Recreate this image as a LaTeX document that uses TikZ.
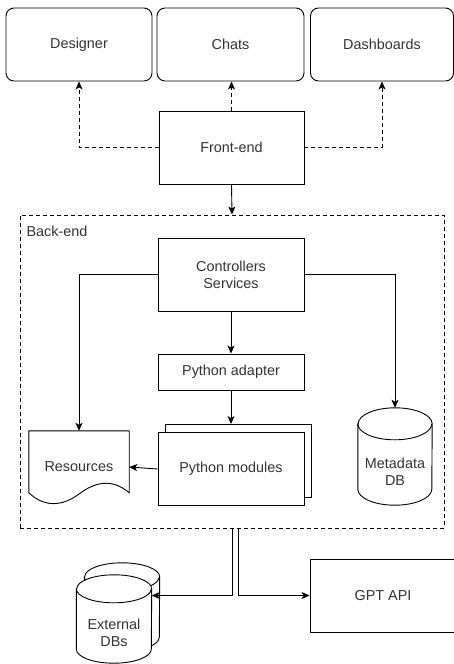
\documentclass[tikz,border=0pt]{standalone}
\usepackage{fontspec}
\setmainfont{Liberation Sans}
\usepackage{tikz}
\usetikzlibrary{shapes.geometric, arrows.meta, positioning, calc}
\definecolor{textgray}{RGB}{51,51,51}

\begin{document}
\begin{tikzpicture}[
    x=1pt, y=-1pt,
    font=\fontsize{14.4}{17}\selectfont,
    box/.style={
        rectangle,
        draw,
        line width=0.9pt,
        minimum width=146pt,
        minimum height=73pt,
        align=center,
        text=textgray,
        fill=white
    },
    roundbox/.style={box, rounded corners=8pt},
    smallbox/.style={box, minimum height=36pt},
    dbarea/.style={rectangle, minimum width=74pt, inner sep=0pt},
    dbline/.style={line width=0.9pt, fill=white},
    dbtext/.style={align=center, text=textgray},
    arrow/.style={-{Stealth[length=8pt,width=7pt,inset=2pt]}, line width=0.9pt},
    dasharrow/.style={arrow, dash pattern=on 4pt off 3pt}
]

\useasboundingbox (0,0) rectangle (454,664);

% front-end clients
\node[roundbox] (designer) at (79,44.5) {Designer};
\node[roundbox, minimum width=147pt] (chats) at (230.5,44.5) {Chats};
\node[roundbox, minimum width=143pt] (dashboards) at (382,44.5) {Dashboards};
\node[box, minimum width=145pt] (frontend) at (231.5,147.5) {Front-end};

% back-end container
\node[draw, line width=0.9pt, dash pattern=on 4pt off 3pt, minimum width=424pt, minimum height=313pt] (backend) at (232,371.5) {};
\node[anchor=west, text=textgray] (belabel) at (23,231) {Back-end};

\node[box] (ctrl) at (231,274.5) {Controllers\\Services};
\node[smallbox] (adapter) at (231,372) {Python adapter};
\node[box] (modback) at (238,461) {};
\node[box] (modules) at (231,469) {Python modules};
\node[rectangle, minimum width=100pt, minimum height=72pt, text=textgray] (res) at (79,467) {Resources};
\draw[line width=0.9pt] (res.north west) -- (res.north east) -- ($(res.north east)+(0,62)$)
    .. controls (112,478) and (95,482) .. (79,494)
    .. controls (63,506) and (45,508) .. ($(res.north west)+(0,62)$) -- cycle;

% database areas
\node[dbarea, minimum height=97pt] (meta) at (395,456.5) {};
\node[dbarea, minimum width=75pt, minimum height=88pt] (extback) at (122,607) {};
\node[dbarea, minimum width=75pt, minimum height=88pt] (extdb) at (114,619) {};
\node[box] (gpt) at (383,595.5) {GPT API};

% cylinders
\foreach \db/\rx/\ry in {meta/37/16, extback/37.5/14, extdb/37.5/14} {
    \draw[dbline] ([yshift=-\ry pt]\db.north west) -- ([yshift=\ry pt]\db.south west)
        arc[start angle=180, end angle=360, x radius=\rx pt, y radius=\ry pt]
        -- ([yshift=-\ry pt]\db.north east)
        arc[start angle=0, end angle=180, x radius=\rx pt, y radius=\ry pt] -- cycle;
    \draw[dbline, fill=none] ([yshift=-\ry pt]\db.north west)
        arc[start angle=180, end angle=360, x radius=\rx pt, y radius=\ry pt];
}
\node[dbtext] (metatext) at (395,472) {Metadata\\DB};
\node[dbtext] (exttext) at (114,633) {External\\DBs};

\draw[dasharrow] (frontend.west) -| (designer.south);
\draw[dasharrow] (frontend.north) -- (frontend.north |- chats.south);
\draw[dasharrow] (frontend.east) -| (dashboards.south);
\draw[arrow] (frontend.south) -- (backend.north);
\draw[arrow] (ctrl.south) -- (adapter.north);
\draw[arrow] (ctrl.west) -| (res.north);
\draw[arrow] (ctrl.east) -| (meta.north);
\draw[arrow] (adapter.south) -- (adapter.south |- modback.north);
\draw[arrow] (modules.west) -- (res.east);
\draw[arrow] (backend.south) |- (extdb.east |- gpt.west);
\draw[arrow] ([xshift=6pt]backend.south) |- (gpt.west);

\end{tikzpicture}
\end{document}
